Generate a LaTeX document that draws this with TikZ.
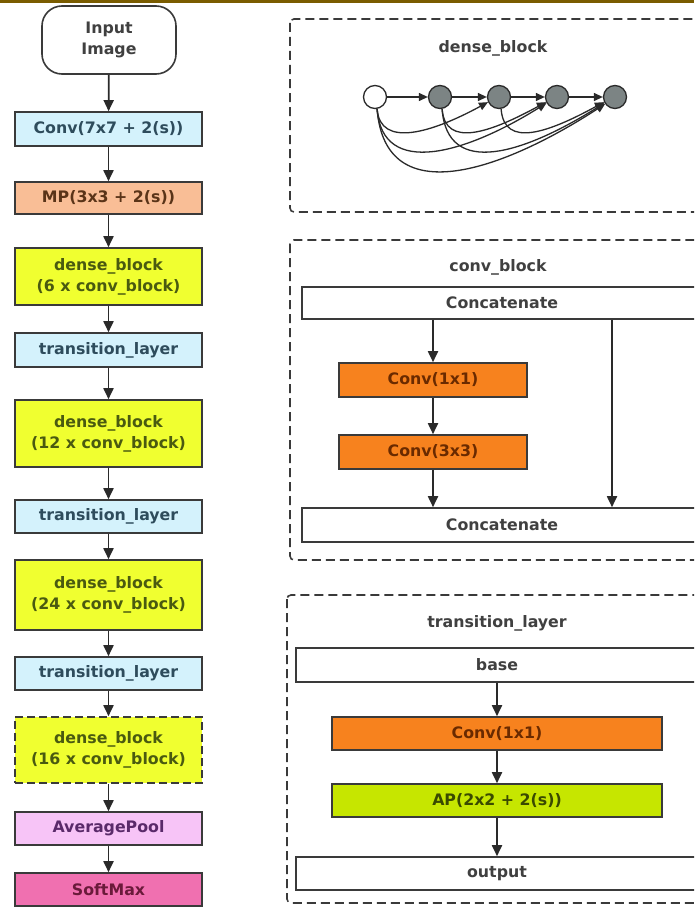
\documentclass[tikz,border=0pt]{standalone}
\usepackage{fontspec}
\setmainfont{DejaVu Sans}
\usetikzlibrary{arrows.meta}
\definecolor{topline}{HTML}{7A5C00}
\definecolor{boxline}{HTML}{3A3A3A}
\definecolor{arrowc}{HTML}{2A2A2A}
\definecolor{cyanf}{HTML}{D4F2FC}
\definecolor{cyant}{HTML}{2E4C5C}
\definecolor{mpf}{HTML}{F9BE96}
\definecolor{mpt}{HTML}{5A3418}
\definecolor{yelf}{HTML}{F0FF30}
\definecolor{yelt}{HTML}{4A5A10}
\definecolor{avgf}{HTML}{F7C4F7}
\definecolor{avgt}{HTML}{5A2A6A}
\definecolor{smf}{HTML}{F070B0}
\definecolor{smt}{HTML}{6A1A3A}
\definecolor{orf}{HTML}{F7821E}
\definecolor{ort}{HTML}{6A2A00}
\definecolor{apf}{HTML}{C6E600}
\definecolor{apt}{HTML}{3A4A00}
\definecolor{textg}{HTML}{404040}
\definecolor{nodeg}{HTML}{7C8484}
\newcommand{\fnt}{\fontsize{15.8}{21}\selectfont\bfseries}
\begin{document}
\begin{tikzpicture}[x=1pt,y=-1pt,
  box/.style={draw=boxline, line width=1.6pt, inner sep=0pt, font=\fnt, align=center},
  arr/.style={line width=1.8pt, draw=arrowc, -{Triangle[length=11pt,width=10pt]}},
  carr/.style={line width=1.3pt, draw=arrowc, -{Triangle[length=9pt,width=8pt]}},
  panel/.style={draw=boxline, line width=1.6pt, dash pattern=on 9pt off 5pt, rounded corners=4pt},
  ttl/.style={font=\fnt, text=textg},
  dn/.style={circle, draw=arrowc, line width=1.3pt, minimum size=23pt, inner sep=0pt, fill=nodeg}]
\clip (0,0) rectangle (694,907);
\fill[white] (0,0) rectangle (694,907);
\fill[topline] (0,0) rectangle (694,3);

% left column
\node[box, rounded corners=20pt, fill=white, text=textg, minimum width=134pt, minimum height=68pt] (in) at (109,40) {Input\\Image};
\node[box, fill=cyanf, text=cyant, minimum width=187pt, minimum height=34pt] (c7) at (108.5,129) {Conv(7x7 + 2(s))};
\node[box, fill=mpf, text=mpt, minimum width=187pt, minimum height=32pt] (mp) at (108.5,198) {MP(3x3 + 2(s))};
\node[box, fill=yelf, text=yelt, minimum width=187pt, minimum height=57pt] (d1) at (108.5,276.5) {dense\_block\\(6 x conv\_block)};
\node[box, fill=cyanf, text=cyant, minimum width=187pt, minimum height=34pt] (t1) at (108.5,350) {transition\_layer};
\node[box, fill=yelf, text=yelt, minimum width=187pt, minimum height=67pt] (d2) at (108.5,433.5) {dense\_block\\(12 x conv\_block)};
\node[box, fill=cyanf, text=cyant, minimum width=187pt, minimum height=33pt] (t2) at (108.5,516.5) {transition\_layer};
\node[box, fill=yelf, text=yelt, minimum width=187pt, minimum height=70pt] (d3) at (108.5,595) {dense\_block\\(24 x conv\_block)};
\node[box, fill=cyanf, text=cyant, minimum width=187pt, minimum height=33pt] (t3) at (108.5,673.5) {transition\_layer};
\node[box, fill=yelf, text=yelt, minimum width=187pt, minimum height=66pt, dash pattern=on 8pt off 4pt] (d4) at (108.5,750) {dense\_block\\(16 x conv\_block)};
\node[box, fill=avgf, text=avgt, minimum width=187pt, minimum height=33pt] (ap) at (108.5,828.5) {AveragePool};
\node[box, fill=smf, text=smt, minimum width=187pt, minimum height=33pt] (sm) at (108.5,889.5) {SoftMax};
\draw[arr] (in) -- (c7);
\draw[arr] (c7) -- (mp);
\draw[arr] (mp) -- (d1);
\draw[arr] (d1) -- (t1);
\draw[arr] (t1) -- (d2);
\draw[arr] (d2) -- (t2);
\draw[arr] (t2) -- (d3);
\draw[arr] (d3) -- (t3);
\draw[arr] (t3) -- (d4);
\draw[arr] (d4) -- (ap);
\draw[arr] (ap) -- (sm);

% dense_block panel
\draw[panel] (290,19) rectangle (730,212);
\node[ttl] (dbt) at (493,48) {dense\_block};
\node[dn, fill=white] (n0) at (375,97) {};
\node[dn] (n1) at (440,97) {};
\node[dn] (n2) at (499,97) {};
\node[dn] (n3) at (557,97) {};
\node[dn] (n4) at (615,97) {};
\draw[carr] (n0) -- (n1);
\draw[carr] (n1) -- (n2);
\draw[carr] (n2) -- (n3);
\draw[carr] (n3) -- (n4);
\draw[carr] (n0.-80) .. controls +(3,40) and +(-55,30) .. (n2.205);
\draw[carr] (n0.-80) .. controls +(5,70) and +(-80,50) .. (n3.210);
\draw[carr] (n0.-80) .. controls +(8,105) and +(-100,65) .. (n4.215);
\draw[carr] (n1.-80) .. controls +(3,40) and +(-55,30) .. (n3.205);
\draw[carr] (n1.-80) .. controls +(5,70) and +(-80,50) .. (n4.210);
\draw[carr] (n2.-80) .. controls +(3,40) and +(-55,30) .. (n4.205);

% conv_block panel
\draw[panel] (290,240) rectangle (730,560);
\node[ttl] (cbt) at (498,267) {conv\_block};
\node[box, fill=white, text=textg, minimum width=400pt, minimum height=32pt] (ct) at (502,303) {Concatenate};
\node[box, fill=orf, text=ort, minimum width=188pt, minimum height=34pt] (k1) at (433,380) {Conv(1x1)};
\node[box, fill=orf, text=ort, minimum width=188pt, minimum height=34pt] (k3) at (433,452) {Conv(3x3)};
\node[box, fill=white, text=textg, minimum width=400pt, minimum height=34pt] (cb) at (502,525) {Concatenate};
\coordinate (rx) at (612,0);
\draw[arr] (k1.north |- ct.south) -- (k1.north);
\draw[arr] (k1) -- (k3);
\draw[arr] (k3.south) -- (k3.south |- cb.north);
\draw[arr] (ct.south -| rx) -- (cb.north -| rx);

% transition_layer panel
\draw[panel] (287,595) rectangle (730,903);
\node[ttl] (tlt) at (497,623) {transition\_layer};
\node[box, fill=white, text=textg, minimum width=402pt, minimum height=34pt] (bs) at (497,665) {base};
\node[box, fill=orf, text=ort, minimum width=330pt, minimum height=33pt] (tc) at (497,733.5) {Conv(1x1)};
\node[box, fill=apf, text=apt, minimum width=330pt, minimum height=33pt] (tp) at (497,800.5) {AP(2x2 + 2(s))};
\node[box, fill=white, text=textg, minimum width=402pt, minimum height=33pt] (op) at (497,873.5) {output};
\draw[arr] (bs) -- (tc);
\draw[arr] (tc) -- (tp);
\draw[arr] (tp) -- (op);
\end{tikzpicture}
\end{document}
